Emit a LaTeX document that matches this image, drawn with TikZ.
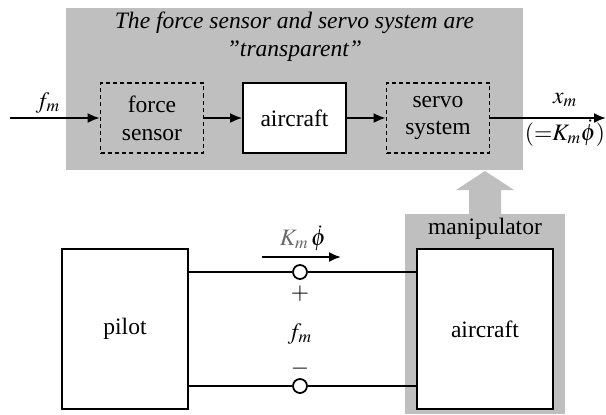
\documentclass[tikz,border=0pt]{standalone}
\usepackage{mathptmx}
\usepackage[no-math]{fontspec}
\setmainfont{Liberation Serif}
\usetikzlibrary{arrows.meta}
\definecolor{boxgray}{RGB}{191,191,191}
\definecolor{labelgray}{RGB}{105,105,105}

\begin{document}
\begin{tikzpicture}[
		x=0.02cm, y=-0.02cm,
		font=\fontsize{13.4}{15.9}\selectfont,
		arrow/.style={-{Latex[length=0.24cm, width=0.2cm]}, line width=1.1pt},
		wire/.style={line width=1pt},
		tag/.style={inner sep=0pt},
		block/.style={rectangle, draw, line width=1pt, fill=white, inner sep=0pt,
			minimum width=2.06cm, minimum height=1.4cm, align=center},
		hidden/.style={block, fill=none, dash pattern=on 2.3pt off 1.8pt},
		big/.style={rectangle, draw, line width=0.9pt, fill=white, inner sep=0pt,
			minimum height=3.2cm},
		terminal/.style={circle, draw, line width=1pt, fill=white,
			minimum size=0.28cm, inner sep=0pt}
		]
		\useasboundingbox (0,0) rectangle (606,414);
		
		% ---- Grey backgrounds ----
		\fill[boxgray] (66,8) rectangle (523,170);
		\fill[boxgray] (405,214) rectangle (565,414);
		\fill[boxgray] (469,214) -- (469,190) -- (456,190) -- (485,171)
		-- (514,190) -- (501,190) -- (501,214) -- cycle;
		
		% ---- Top row: transparent chain ----
		\node[align=center, font=\fontsize{13.4}{15.9}\selectfont\itshape] (note) at (294.5,37)
		{The force sensor and servo system are\\\char34 transparent\char34};
		\node[hidden] (sensor) at (152,118) {force\\sensor};
		\node[block]  (plant)  at (294.5,118) {aircraft};
		\node[hidden] (servo)  at (438,118) {servo\\system};
		
		\coordinate (in)  at (10,118);
		\coordinate (out) at (606,118);
		\node[tag] (fin)  at (48,103)  {$f_m$};
		\node[tag] (xout) at (565,100) {$x_m$};
		\node[tag] (xeq)  at (565,133) {$({=}K_m\dot{\phi})$};
		
		\draw[arrow] (in) -- (sensor);
		\draw[arrow] (sensor) -- (plant);
		\draw[arrow] (plant) -- (servo);
		\draw[arrow] (servo) -- (out);
		
		% ---- Bottom row: pilot and manipulator ----
		\node[big, minimum width=2.52cm] (pilot) at (125,329) {pilot};
		\node[big, minimum width=2.72cm] (craft) at (485,329) {aircraft};
		\node[tag] (manip) at (485,229) {manipulator};
		
		\node[terminal] (plus)  at (300,272) {};
		\node[terminal] (minus) at (300,386) {};
		\draw[wire] (pilot.east |- plus) -- (plus) -- (craft.west |- plus);
		\draw[wire] (pilot.east |- minus) -- (minus) -- (craft.west |- minus);
		
		\node[tag] (psign) at (300,294) {$+$};
		\node[tag] (force) at (300,334) {$f_m$};
		\node[tag] (msign) at (300,369) {$-$};
		
		% ---- Rate arrow ----
		\coordinate (kstart) at (262,257);
		\coordinate (kend)   at (341,257);
		\draw[arrow] (kstart) -- (kend);
		\node[tag] (rate) at (303,238) {$\textcolor{labelgray}{K_m}\,\dot{\phi}$};
	\end{tikzpicture}
\end{document}
